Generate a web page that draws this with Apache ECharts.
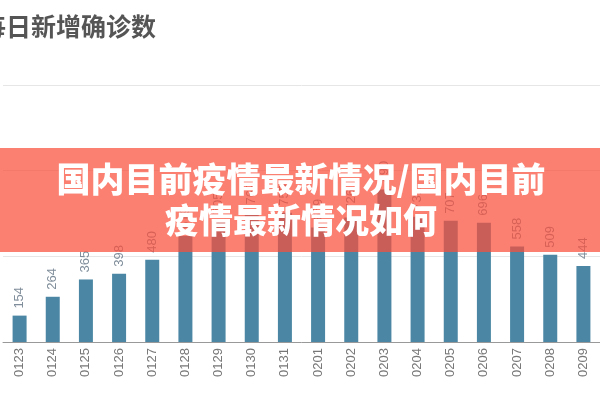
<!DOCTYPE html>
<html>
<head>
<meta charset="utf-8">
<script src="https://cdn.jsdelivr.net/npm/echarts@6/dist/echarts.min.js"></script>
<style>html,body{margin:0;padding:0;background:#fff}#c{width:600px;height:400px}</style>
</head>
<body>
<div id="c"></div>
<script>
var titleText = '每日新增确诊数';
var bannerText = '国内目前疫情最新情况/国内目前\n疫情最新情况如何';
var categories = ['0123','0124','0125','0126','0127','0128','0129','0130','0131','0201','0202','0203','0204','0205','0206','0207','0208','0209'];
var newCases = [154,264,365,398,480,619,705,762,755,669,726,890,731,707,696,558,509,444];
var yTicks = [0, 500, 1000, 1500];

var chart = echarts.init(document.getElementById('c'), null, {renderer: 'canvas'});
chart.setOption({
  animation: false,
  backgroundColor: '#ffffff',
  title: {
    text: titleText,
    left: -24, top: 9,
    textStyle: {fontSize: 25, fontWeight: 'bold', color: '#555555', fontFamily: '"Noto Sans CJK SC", sans-serif'}
  },
  grid: {left: 3, right: -8, top: 85, bottom: 58},
  xAxis: {
    type: 'category',
    data: categories,
    axisLine: {lineStyle: {color: '#999999', width: 1}},
    axisTick: {show: false},
    axisLabel: {rotate: 90, color: '#777777', fontSize: 13, margin: 6, fontFamily: 'Arial, "Liberation Sans", sans-serif'}
  },
  yAxis: {
    type: 'value',
    min: yTicks[0], max: yTicks[yTicks.length - 1], interval: yTicks[1] - yTicks[0],
    axisLabel: {show: false},
    axisLine: {show: false},
    axisTick: {show: false},
    splitLine: {lineStyle: {color: '#e6e6e6', width: 1}}
  },
  series: [{
    type: 'bar',
    data: newCases,
    barWidth: 14,
    itemStyle: {color: '#4b87a4'},
    label: {
      show: true, position: 'top', rotate: 90, align: 'left', verticalAlign: 'middle',
      distance: 7, color: '#7f8d9a', fontSize: 13,
      fontFamily: 'Arial, "Liberation Sans", sans-serif'
    }
  }],
  graphic: [
    {type: 'rect', z: 100, shape: {x: 0, y: 148, width: 600, height: 104}, style: {fill: 'rgba(249,79,60,0.72)'}},
    {type: 'text', z: 101, x: 301, y: 200, style: {
      text: bannerText, fill: '#ffffff', align: 'center', verticalAlign: 'middle',
      font: '900 34px "Noto Sans CJK SC", sans-serif', lineHeight: 41
    }}
  ]
});
</script>
</body>
</html>
